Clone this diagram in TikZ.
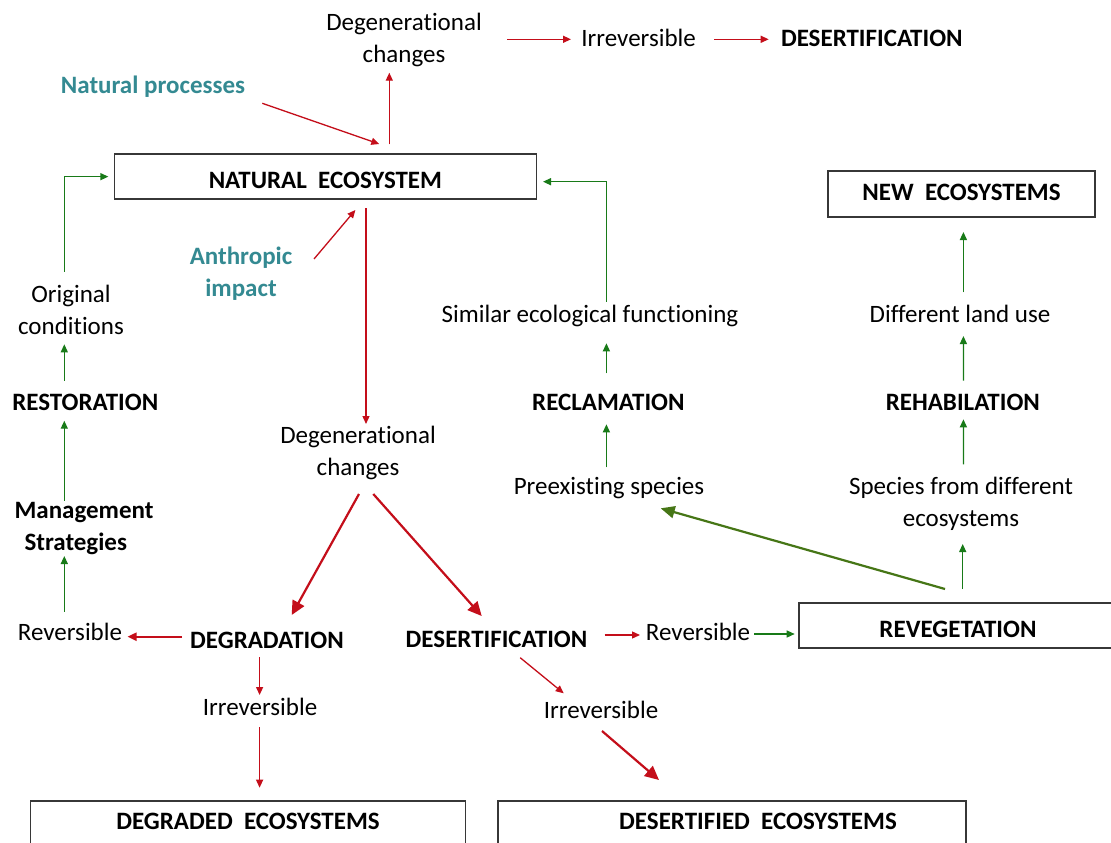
\documentclass[tikz,border=0pt]{standalone}
\usepackage{fontspec}
\setmainfont{Carlito}[Ligatures={NoCommon,NoContextual},RawFeature={-liga;-clig;-calt}]
\usetikzlibrary{arrows.meta,calc}
\definecolor{myred}{RGB}{196,14,26}
\definecolor{mygreen}{RGB}{24,122,24}
\definecolor{myolive}{RGB}{70,118,22}
\definecolor{myteal}{RGB}{52,138,146}
\definecolor{boxgray}{RGB}{55,55,55}
\begin{document}
\begin{tikzpicture}[x=1pt,y=-1pt,
  lbl/.style={inner sep=0pt, font=\fontsize{25}{32}\selectfont, align=center, text=black},
  lbla/.style={lbl, text height=18pt, text depth=2pt},
  blbl/.style={lbl, font=\fontsize{25}{32}\selectfont\bfseries},
  blbla/.style={blbl, text height=18pt, text depth=2pt},
  tealtxt/.style={blbl, text=myteal},
  tealtxta/.style={tealtxt, text height=18pt, text depth=2pt},
  ebox/.style={draw=boxgray, line width=1.7pt, inner sep=0pt, text depth=0pt, font=\fontsize{25}{32}\selectfont\bfseries},
  redarr/.style={draw=myred, line width=1.3pt, -{Triangle[length=8pt,width=7pt]}},
  redmid/.style={draw=myred, line width=2pt, -{Triangle[length=9pt,width=8pt]}},
  redbig/.style={draw=myred, line width=2.2pt, -{Triangle[length=14pt,width=13pt]}},
  grnarr/.style={draw=mygreen, line width=1.3pt, -{Triangle[length=8pt,width=7pt]}},
  olivarr/.style={draw=myolive, line width=2.2pt, -{Triangle[length=14pt,width=12pt]}},
]
\useasboundingbox (0,0) rectangle (1111,843);
\fill[white] (0,0) rectangle (1111,843);
\clip (0,0) rectangle (1111,843);

% nodes
\node[lbl] (deg1) at (404,40) {Degenerational\\changes};
\node[lbla] (irr1) at (638.6,38.3) {Irreversible};
\node[blbla] (des1) at (871.8,38.3) {DESERTIFICATION};
\node[tealtxta] (natproc) at (153,85) {Natural processes};
\node[ebox, minimum width=422pt, minimum height=45.3pt, text height=24pt] (natural) at (325.35,176.65) {NATURAL\ \ ECOSYSTEM};
\node[ebox, minimum width=267.6pt, minimum height=45.7pt, text height=14pt] (neweco) at (961.5,193.85) {NEW\ \ ECOSYSTEMS};
\node[tealtxt] (anthro) at (241,273.5) {Anthropic\\impact};
\node[lbl] (orig) at (71,309.5) {Original\\conditions};
\node[blbla] (resto) at (85.3,402) {RESTORATION};
\node[blbl, align=left] (mgmt) at (84,528.5) {Management\\\hspace*{10pt}Strategies};
\node[lbla] (rev1) at (70,632.7) {Reversible};
\node[blbla] (degr) at (267,640) {DEGRADATION};
\node[lbla] (irr2) at (260,707.7) {Irreversible};
\node[lbl] (deg2) at (358,453) {Degenerational\\changes};
\node[blbla] (desert) at (496.5,639) {DESERTIFICATION};
\node[lbla] (rev2) at (698,632.7) {Reversible};
\node[ebox, minimum width=318pt, minimum height=45pt, text height=24pt] (reveg) at (958,625.8) {REVEGETATION};
\node[lbla] (irr3) at (601,710.7) {Irreversible};
\node[ebox, minimum width=435pt, minimum height=46pt, text height=12pt] (degraded) at (248,823.7) {DEGRADED\ \ ECOSYSTEMS};
\node[ebox, minimum width=468pt, minimum height=46pt, text height=12pt] (desertified) at (732,823.7) {\hspace*{52pt}DESERTIFIED\ \ ECOSYSTEMS};
\node[lbla] (preex) at (609,486.7) {Preexisting species};
\node[blbla] (reclam) at (608.4,402.3) {RECLAMATION};
\node[lbla] (similar) at (590,314) {Similar ecological functioning};
\node[lbl] (specdiff) at (961,503.5) {Species from different\\ecosystems};
\node[blbla] (rehab) at (962.8,402.3) {REHABILATION};
\node[lbla] (difland) at (960,314) {Different land use};

% connectors
\draw[redarr] ($(deg1)+(103,-0.7)$) -- ($(irr1)+(-67.6,1)$);
\draw[redarr] ($(irr1)+(75.4,1)$) -- ($(des1)+(-103.1,1)$);
\draw[redarr] ($(natproc)+(109.3,18.3)$) -- ($(natural)+(53.95,-32.65)$);
\draw[redarr] ($(natural)+(63.95,-32.35)$) -- ($(deg1)+(-14.7,32.7)$);
\draw[redarr] ($(anthro)+(73,-14.5)$) -- ($(natural)+(30.05,33.35)$);
\draw[redarr] ($(natural)+(40.65,31.35)$) -- ($(deg2)+(8,-29)$);
\draw[grnarr] ($(orig)+(-6.7,-37.8)$) |- ($(natural)+(-217,0)$);
\draw[grnarr] ($(resto)+(-21,-21.3)$) -- ($(orig)+(-6.7,34.8)$);
\draw[grnarr] ($(mgmt)+(-19.7,-27.8)$) -- ($(resto)+(-21,18.7)$);
\draw[grnarr] ($(rev1)+(-5.7,-21)$) -- ($(mgmt)+(-19.7,27.5)$);
\draw[redmid] ($(degr)+(-85,-3.3)$) -- ($(rev1)+(57.5,4)$);
\draw[redarr] ($(degr)+(-7.4,17)$) -- ($(irr2)+(-0.4,-12.7)$);
\draw[redarr] ($(irr2)+(-0.4,19.3)$) -- ($(degraded)+(11.6,-36)$);
\draw[redbig] ($(deg2)+(1,41)$) -- ($(degr)+(24.7,-25)$);
\draw[redbig] ($(deg2)+(15.3,41)$) -- ($(desert)+(-14.8,-23)$);
\draw[redarr] ($(desert)+(108.2,-4)$) -- ($(rev2)+(-58,2.3)$);
\draw[grnarr] ($(rev2)+(56.4,1.3)$) -- ($(reveg)+(-163.3,8.2)$);
\draw[redarr] ($(desert)+(23.7,18.7)$) -- ($(irr3)+(-37.3,-17.4)$);
\draw[redbig] ($(irr3)+(1,20.3)$) -- ($(desertified)+(-73,-43.7)$);
\draw[olivarr] ($(reveg)+(-13,-36.8)$) -- ($(preex)+(51.7,21.6)$);
\draw[grnarr] ($(reveg)+(4.7,-36.8)$) -- ($(specdiff)+(1.7,40.5)$);
\draw[grnarr] ($(specdiff)+(2.4,-39.2)$) -- ($(rehab)+(0.6,17)$);
\draw[grnarr] ($(rehab)+(0.6,-21.6)$) -- ($(difland)+(3.4,22)$);
\draw[grnarr] ($(difland)+(3.4,-21.7)$) -- ($(neweco)+(1.9,38.15)$);
\draw[grnarr] ($(preex)+(-2.6,-19.4)$) -- ($(reclam)+(-2,22)$);
\draw[grnarr] ($(reclam)+(-2,-29)$) -- ($(similar)+(16.4,29.3)$);
\draw[grnarr] ($(similar)+(16.4,-12.3)$) |- ($(natural)+(217.65,5.05)$);
\end{tikzpicture}
\end{document}
